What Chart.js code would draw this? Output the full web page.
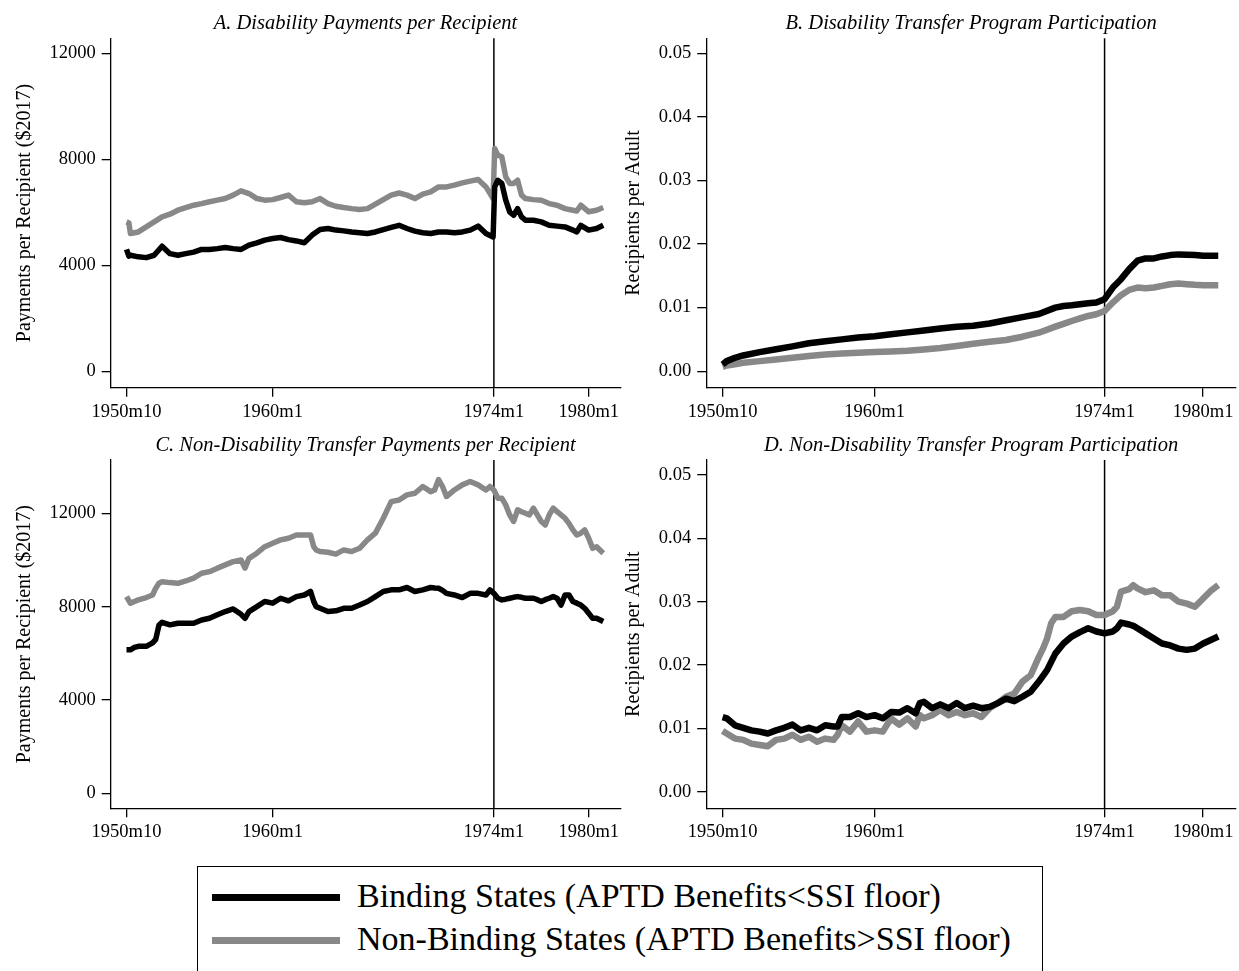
<!DOCTYPE html>
<html>
<head>
<meta charset="utf-8">
<script src="https://cdn.jsdelivr.net/npm/chart.js@4.4.1/dist/chart.umd.min.js"></script>
<style>
  html, body { margin: 0; padding: 0; background: #fff; width: 1239px; height: 971px; overflow: hidden; }
  canvas { position: absolute; }
  #legend { position: absolute; left: 197px; top: 866px; width: 846px; height: 120px; box-sizing: border-box; border: 1.5px solid #000; }
  .sw { position: absolute; left: 14px; width: 128px; height: 7px; }
  .lt { position: absolute; left: 159px; font-family: "Liberation Serif", serif; font-size: 34px; line-height: 34px; white-space: nowrap; color: #000; }
</style>
</head>
<body>
<canvas id="cA" width="640" height="430" style="left:0px;top:0px"></canvas>
<canvas id="cB" width="619" height="430" style="left:620px;top:0px"></canvas>
<canvas id="cC" width="640" height="420" style="left:0px;top:430px"></canvas>
<canvas id="cD" width="619" height="420" style="left:620px;top:430px"></canvas>
<div id="legend">
  <div class="sw" style="top:27px;background:#000"></div>
  <div class="lt" style="top:12px">Binding States (APTD Benefits&lt;SSI floor)</div>
  <div class="sw" style="top:70px;background:#888"></div>
  <div class="lt" style="top:55px">Non-Binding States (APTD Benefits&gt;SSI floor)</div>
</div>
<script>
// time axis (decimal years), shared ticks
const xTicks = [1950.75, 1960, 1974, 1980];
const xTickLabels = ["1950m10", "1960m1", "1974m1", "1980m1"];
const payTicks = [0, 4000, 8000, 12000];
const rateTicks = [0, 0.01, 0.02, 0.03, 0.04, 0.05];

// A. Disability payments per recipient
const xA = [1950.75, 1950.9, 1951, 1951.5, 1952, 1952.5, 1953, 1953.5, 1954, 1954.5, 1955, 1955.5, 1956, 1956.5, 1957, 1957.5, 1958, 1958.5, 1959, 1959.5,
  1960, 1960.5, 1961, 1961.5, 1962, 1962.5, 1963, 1963.5, 1964, 1964.5, 1965, 1965.5, 1966, 1966.5, 1967, 1967.5, 1968, 1968.5, 1969, 1969.5,
  1970, 1970.5, 1971, 1971.5, 1972, 1972.5, 1973, 1973.5, 1973.95, 1974.05, 1974.25, 1974.5, 1974.75, 1975, 1975.25, 1975.5, 1975.75,
  1976, 1976.5, 1977, 1977.5, 1978, 1978.5, 1979, 1979.25, 1979.5, 1980, 1980.5, 1980.92];
const bindA = [4600, 4350, 4380, 4320, 4290, 4380, 4720, 4440, 4380, 4440, 4500, 4600, 4600, 4630, 4670, 4630, 4600, 4760, 4850, 4950,
  5010, 5050, 4970, 4920, 4850, 5140, 5350, 5390, 5330, 5300, 5260, 5230, 5200, 5260, 5350, 5430, 5510, 5390, 5290, 5230,
  5200, 5260, 5260, 5230, 5260, 5330, 5480, 5200, 5070, 6960, 7210, 7090, 6460, 6020, 5890, 6140, 5830,
  5700, 5700, 5640, 5510, 5480, 5450, 5330, 5260, 5510, 5330, 5390, 5510];
const nonbindA = [5640, 5600, 5200, 5260, 5450, 5640, 5830, 5930, 6080, 6180, 6270, 6330, 6400, 6460, 6520, 6650, 6810, 6710, 6520, 6460,
  6480, 6560, 6650, 6400, 6360, 6400, 6520, 6330, 6230, 6180, 6140, 6110, 6140, 6310, 6480, 6650, 6730, 6650, 6520, 6690,
  6770, 6960, 6960, 7030, 7110, 7180, 7240, 6960, 6520, 8410, 8160, 8100, 7340, 7090, 7090, 7210, 6650,
  6520, 6480, 6460, 6330, 6270, 6140, 6080, 6050, 6270, 6020, 6080, 6180];

// B. Disability transfer program participation
const xB = [1950.75, 1951, 1951.5, 1952, 1953, 1954, 1955, 1956, 1957, 1958, 1959, 1960, 1961, 1962, 1963, 1964, 1965, 1966, 1967, 1968, 1969, 1970,
  1971, 1971.5, 1972, 1972.5, 1973, 1973.5, 1974, 1974.5, 1975, 1975.5, 1976, 1976.5, 1977, 1977.5, 1978, 1978.5, 1979, 1979.5, 1980, 1980.5, 1980.92];
const bindB = [0.00105, 0.00158, 0.0021, 0.00247, 0.0030, 0.00345, 0.0039, 0.0044, 0.0047, 0.0050, 0.0053, 0.0055, 0.0058, 0.0061, 0.0064, 0.0067, 0.0070, 0.00715, 0.0075, 0.0080, 0.0085, 0.0090,
  0.0100, 0.01026, 0.01037, 0.01053, 0.01068, 0.01079, 0.01132, 0.01316, 0.01447, 0.01605, 0.01737, 0.01774, 0.01774, 0.01805, 0.01826, 0.01837, 0.01832, 0.01826, 0.01816, 0.01816, 0.01816];
const nonbindB = [0.00068, 0.0009, 0.0011, 0.00132, 0.00158, 0.00184, 0.0021, 0.00237, 0.00263, 0.00279, 0.00289, 0.0030, 0.0031, 0.00321, 0.00342, 0.00363, 0.00395, 0.00432, 0.00463, 0.0049, 0.00542, 0.00605,
  0.0070, 0.00745, 0.00789, 0.0083, 0.00868, 0.00895, 0.00947, 0.01079, 0.01195, 0.01279, 0.01316, 0.01305, 0.01316, 0.01342, 0.01368, 0.01379, 0.01368, 0.01358, 0.01353, 0.01353, 0.01353];

// C. Non-disability transfer payments per recipient
const xC = [1950.75, 1951, 1951.25, 1951.5, 1952, 1952.4, 1952.6, 1952.8, 1953, 1953.5, 1954, 1954.5, 1955, 1955.5, 1956, 1956.5, 1957, 1957.5, 1958, 1958.25, 1958.5, 1959, 1959.5,
  1960, 1960.5, 1961, 1961.5, 1962, 1962.4, 1962.6, 1962.75, 1963, 1963.5, 1964, 1964.5, 1965, 1965.5, 1966, 1966.5, 1967, 1967.5, 1968, 1968.5, 1969, 1969.5,
  1970, 1970.25, 1970.5, 1970.75, 1971, 1971.5, 1972, 1972.5, 1973, 1973.5, 1973.75, 1974, 1974.25, 1974.5, 1974.75, 1975, 1975.25, 1975.5, 1975.75,
  1976, 1976.25, 1976.5, 1976.75, 1977, 1977.25, 1977.5, 1977.75, 1978, 1978.25, 1978.5, 1978.75, 1979, 1979.25, 1979.5, 1979.75, 1980, 1980.25, 1980.5, 1980.92];
const bindC = [6150, 6150, 6250, 6300, 6300, 6450, 6600, 7200, 7330, 7220, 7290, 7290, 7290, 7430, 7500, 7650, 7790, 7900, 7670, 7500, 7790, 8000, 8220,
  8150, 8360, 8250, 8430, 8500, 8650, 8220, 8000, 7930, 7790, 7820, 7930, 7930, 8070, 8220, 8430, 8650, 8720, 8720, 8820, 8650, 8720,
  8820, 8800, 8790, 8700, 8570, 8500, 8390, 8570, 8570, 8500, 8720, 8570, 8360, 8290, 8320, 8360, 8400, 8430, 8400,
  8360, 8360, 8360, 8300, 8220, 8300, 8360, 8430, 8360, 8070, 8500, 8500, 8220, 8150, 8070, 7930, 7720, 7500, 7500, 7360];
const nonbindC = [8430, 8145, 8220, 8290, 8390, 8500, 8790, 9000, 9070, 9030, 9000, 9100, 9220, 9430, 9500, 9650, 9790, 9930, 10000, 9650, 10070, 10290, 10570,
  10720, 10860, 10930, 11070, 11070, 11070, 10570, 10430, 10360, 10330, 10250, 10430, 10360, 10500, 10860, 11150, 11790, 12500, 12570, 12790, 12860, 13150,
  12930, 13000, 13450, 13150, 12720, 13000, 13220, 13360, 13220, 13000, 13150, 13000, 12650, 12650, 12360, 11930, 11650, 12150, 12070,
  12000, 11930, 12220, 11930, 11650, 11500, 11930, 12220, 12070, 11930, 11790, 11570, 11290, 11070, 11150, 11290, 10930, 10500, 10570, 10290];

// D. Non-disability transfer program participation
const xD = [1950.75, 1951, 1951.5, 1952, 1952.5, 1953, 1953.5, 1954, 1954.5, 1955, 1955.5, 1956, 1956.5, 1957, 1957.5, 1957.75, 1958, 1958.5, 1959, 1959.5,
  1960, 1960.5, 1961, 1961.5, 1962, 1962.5, 1962.75, 1963, 1963.5, 1964, 1964.5, 1965, 1965.5, 1966, 1966.5, 1967, 1967.5, 1968, 1968.5, 1969, 1969.5,
  1970, 1970.25, 1970.5, 1970.75, 1971, 1971.5, 1972, 1972.5, 1973, 1973.5, 1974, 1974.5, 1974.75, 1975, 1975.5, 1975.75,
  1976, 1976.5, 1977, 1977.5, 1978, 1978.5, 1979, 1979.5, 1980, 1980.5, 1980.92];
const bindD = [0.0118, 0.0116, 0.0105, 0.0101, 0.0097, 0.0095, 0.0092, 0.0097, 0.0101, 0.0106, 0.0097, 0.0101, 0.0097, 0.0105, 0.0103, 0.0103, 0.0118, 0.0118, 0.0124, 0.0118,
  0.0121, 0.0116, 0.0126, 0.0125, 0.0132, 0.0124, 0.0140, 0.0142, 0.0132, 0.0138, 0.0132, 0.0140, 0.0132, 0.0136, 0.0132, 0.0134, 0.0140, 0.0147, 0.0143, 0.0150, 0.0158,
  0.0174, 0.0183, 0.0192, 0.0205, 0.0218, 0.0234, 0.0245, 0.0252, 0.0258, 0.0253, 0.0250, 0.0253, 0.0258, 0.0267, 0.0264, 0.0262,
  0.0258, 0.0250, 0.0242, 0.0234, 0.0231, 0.0226, 0.0224, 0.0226, 0.0234, 0.0240, 0.0245];
const nonbindD = [0.0096, 0.0092, 0.0084, 0.0082, 0.0076, 0.0074, 0.0072, 0.0082, 0.0084, 0.0090, 0.0082, 0.0087, 0.0079, 0.0084, 0.0082, 0.0090, 0.0105, 0.0095, 0.0111, 0.0095,
  0.0097, 0.0095, 0.0116, 0.0106, 0.0116, 0.0103, 0.0121, 0.0116, 0.0121, 0.0129, 0.0121, 0.0126, 0.0121, 0.0124, 0.0118, 0.0132, 0.0140, 0.0150, 0.0155, 0.0174, 0.0184,
  0.0213, 0.0226, 0.0242, 0.0266, 0.0276, 0.0276, 0.0285, 0.0287, 0.0285, 0.0279, 0.0279, 0.0285, 0.0292, 0.0316, 0.0320, 0.0326,
  0.0321, 0.0315, 0.0318, 0.0310, 0.0310, 0.0300, 0.0297, 0.0292, 0.0305, 0.0318, 0.0326];

Chart.defaults.font.family = '"Liberation Serif", "Times New Roman", serif';
Chart.defaults.color = '#000';

// vertical reference line at 1974m1
const vline = {
  id: 'vline',
  beforeDatasetsDraw(chart, args, opts) {
    const { ctx, chartArea, scales } = chart;
    const x = scales.x.getPixelForValue(opts.at);
    ctx.save();
    ctx.strokeStyle = '#000';
    ctx.lineWidth = 1.5;
    ctx.beginPath();
    ctx.moveTo(x, chartArea.top);
    ctx.lineTo(x, chartArea.bottom);
    ctx.stroke();
    ctx.restore();
  }
};

// italic panel title centred over the plot region
const panelTitle = {
  id: 'panelTitle',
  afterDraw(chart, args, opts) {
    const { ctx, chartArea } = chart;
    ctx.save();
    ctx.font = 'italic 20.5px "Liberation Serif", serif';
    ctx.fillStyle = '#000';
    ctx.textAlign = 'center';
    ctx.textBaseline = 'alphabetic';
    ctx.fillText(opts.text, (chartArea.left + chartArea.right) / 2, chartArea.top - 9.5);
    ctx.restore();
  }
};

function pairs(xs, ys) {
  return xs.map((x, i) => ({ x: x, y: ys[i] }));
}

function makePanel(id, p) {
  const lineOpts = { pointRadius: 0, tension: 0, borderJoinStyle: 'round', fill: false };
  new Chart(document.getElementById(id), {
    type: 'line',
    data: {
      datasets: [
        Object.assign({ label: 'Binding', data: pairs(p.x, p.bind), borderColor: '#000', borderWidth: p.lw }, lineOpts),
        Object.assign({ label: 'Non-Binding', data: pairs(p.x, p.nonbind), borderColor: '#888', borderWidth: p.lw }, lineOpts)
      ]
    },
    options: {
      responsive: false,
      animation: false,
      events: [],
      layout: { padding: { top: p.top, right: p.right, bottom: 0, left: 0 } },
      plugins: {
        legend: { display: false },
        tooltip: { enabled: false },
        vline: { at: 1974 },
        panelTitle: { text: p.title }
      },
      scales: {
        x: {
          type: 'linear',
          min: 1949.75,
          max: 1982,
          afterBuildTicks: (s) => { s.ticks = xTicks.map(v => ({ value: v })); },
          afterFit: (s) => { s.height = p.xh; },
          ticks: {
            autoSkip: false, maxRotation: 0, padding: 4,
            font: { size: 18.5 },
            callback: (v) => xTickLabels[xTicks.indexOf(v)]
          },
          grid: { drawOnChartArea: false, drawTicks: true, tickLength: 9, color: '#000', lineWidth: 1.3 },
          border: { display: true, color: '#000', width: 1.3 }
        },
        y: {
          min: p.ymin,
          max: p.ymax,
          afterBuildTicks: (s) => { s.ticks = p.ticks.map(v => ({ value: v })); },
          afterFit: (s) => { s.width = p.yw; },
          ticks: {
            padding: 6,
            font: { size: 18.5 },
            callback: (v) => p.fmt(v)
          },
          title: { display: true, text: p.ytitle, font: { size: 20 }, padding: { top: p.ytpad, bottom: 0 } },
          grid: { drawOnChartArea: false, drawTicks: true, tickLength: 9, color: '#000', lineWidth: 1.3 },
          border: { display: true, color: '#000', width: 1.3 }
        }
      }
    },
    plugins: [vline, panelTitle]
  });
}

const fmtPay = (v) => String(Math.round(v));
const fmtRate = (v) => v.toFixed(2);

makePanel('cA', {
  x: xA, bind: bindA, nonbind: nonbindA, lw: 5.5,
  title: 'A. Disability Payments per Recipient',
  ytitle: 'Payments per Recipient ($2017)',
  ymin: -620, ymax: 12570, ticks: payTicks, fmt: fmtPay,
  top: 38.3, right: 19.7, xh: 42.3, yw: 110.7, ytpad: 13
});
makePanel('cB', {
  x: xB, bind: bindB, nonbind: nonbindB, lw: 6.5,
  title: 'B. Disability Transfer Program Participation',
  ytitle: 'Recipients per Adult',
  ymin: -0.0026, ymax: 0.05236, ticks: rateTicks, fmt: fmtRate,
  top: 38.3, right: 3, xh: 42.3, yw: 86.2, ytpad: 2
});
makePanel('cC', {
  x: xC, bind: bindC, nonbind: nonbindC, lw: 5.5,
  title: 'C. Non-Disability Transfer Payments per Recipient',
  ytitle: 'Payments per Recipient ($2017)',
  ymin: -643, ymax: 14285, ticks: payTicks, fmt: fmtPay,
  top: 30, right: 19.7, xh: 41.7, yw: 110.7, ytpad: 13
});
makePanel('cD', {
  x: xD, bind: bindD, nonbind: nonbindD, lw: 6.5,
  title: 'D. Non-Disability Transfer Program Participation',
  ytitle: 'Recipients per Adult',
  ymin: -0.0026, ymax: 0.05236, ticks: rateTicks, fmt: fmtRate,
  top: 30, right: 3, xh: 41.7, yw: 86.2, ytpad: 2
});
</script>
</body>
</html>
